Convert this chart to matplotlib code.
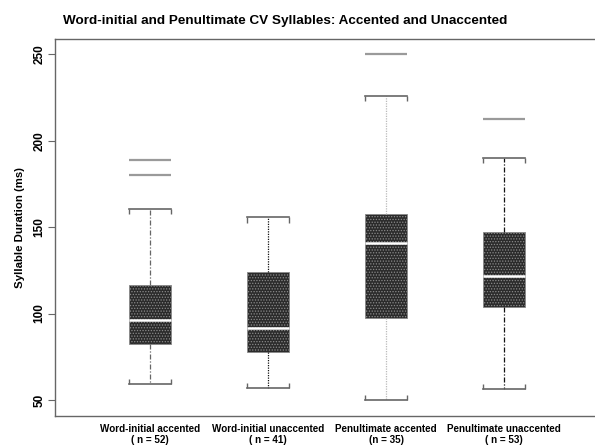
import matplotlib
matplotlib.use("Agg")
import matplotlib.pyplot as plt

plt.rcParams['font.family'] = ['Liberation Sans', 'DejaVu Sans']
plt.rcParams['hatch.linewidth'] = 0.6

categories = ["Word-initial accented", "Word-initial unaccented",
              "Penultimate accented", "Penultimate unaccented"]
n_counts = [52, 41, 35, 53]
n_fmt = ["( n = {})", "( n = {})", "(n = {})", "( n = {})"]
q1 = [82.4, 77.6, 97.4, 104.0]
medians = [96.3, 91.8, 140.7, 121.7]
q3 = [116.5, 123.9, 157.4, 147.0]
whisk_lo = [59.4, 56.8, 50.0, 56.2]
whisk_hi = [160.7, 155.6, 226.0, 190.0]
outliers = [[180.0, 188.8], [], [250.2], [212.8]]
yticks = [50, 100, 150, 200, 250]

whisker_styles = [('#666666', (0, (4, 1.5, 1, 1.5))), ('#111111', (0, (1, 1))),
                  ('#bbbbbb', (0, (1, 1))), ('#111111', (0, (4, 1.5, 1, 1.5)))]

fig = plt.figure(figsize=(5.95, 4.47), dpi=100)
ax = fig.add_axes([55/595, 31/447, 540/595, 377/447])

stats = []
for i in range(len(categories)):
    stats.append(dict(med=medians[i], q1=q1[i], q3=q3[i], whislo=whisk_lo[i],
                      whishi=whisk_hi[i], fliers=outliers[i], label=""))
positions = list(range(1, len(categories) + 1))
w = 0.356
res = ax.bxp(stats, positions=positions, widths=w, patch_artist=True,
             showfliers=True,
             boxprops=dict(facecolor='#2b2b2b', edgecolor='#8a8a8a', hatch='......', linewidth=0.6),
             medianprops=dict(color='white', linewidth=1.8),
             capprops=dict(color='#666666', linewidth=1.2),
             capwidths=w,
             flierprops=dict(marker='_', markersize=30, markeredgewidth=1.6,
                             markeredgecolor='#9a9a9a'))
for i, (c, ls) in enumerate(whisker_styles):
    for wl in res['whiskers'][2*i:2*i+2]:
        wl.set_color(c)
        wl.set_linestyle(ls)
        wl.set_linewidth(0.9)

# bracket ends on caps
for i, p in enumerate(positions):
    for xe in (p - w/2, p + w/2):
        ax.vlines(xe, whisk_hi[i] - 3.0, whisk_hi[i], color='#666666', linewidth=1.0)
        ax.vlines(xe, whisk_lo[i], whisk_lo[i] + 3.0, color='#666666', linewidth=1.0)

ax.set_xlim(0.195, 4.771)
ax.set_ylim(40.7, 258.9)
ax.set_yticks(yticks)
ax.set_yticklabels([str(t) for t in yticks], rotation=90, va='center',
                   fontsize=8.5, fontweight='bold')
ax.set_xticks(positions)
ax.set_xticklabels([f"{c}\n" + f.format(n) for c, f, n in zip(categories, n_fmt, n_counts)],
                   fontsize=7.1, fontweight='bold', linespacing=1.1)
ax.tick_params(axis='x', length=0, pad=6)
ax.tick_params(axis='y', length=5, color='#666666', pad=2)
for s in ['top', 'left', 'bottom']:
    ax.spines[s].set_color('#666666')
    ax.spines[s].set_linewidth(1.0)
ax.spines['right'].set_visible(False)
ax.set_ylabel("Syllable Duration (ms)", fontsize=8.2, fontweight='bold', labelpad=6)
fig.text(285/595, 0.952, "Word-initial and Penultimate CV Syllables: Accented and Unaccented",
         ha='center', va='center', fontsize=9.7, fontweight='bold')

fig.savefig("out.png", dpi=100)
